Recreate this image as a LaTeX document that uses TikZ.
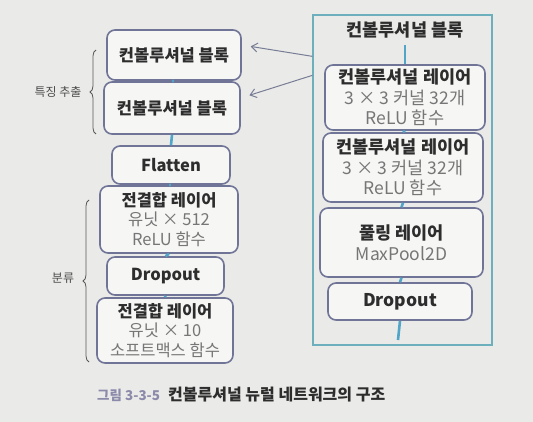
\documentclass[tikz,border=0pt]{standalone}
\usepackage{fontspec}
\setmainfont{Noto Sans CJK KR}
\usetikzlibrary{decorations.pathreplacing,calc,arrows.meta}
\definecolor{bgc}{RGB}{234,234,232}
\definecolor{boxc}{RGB}{112,116,150}
\definecolor{boxfill}{RGB}{246,246,245}
\definecolor{connc}{RGB}{80,165,200}
\definecolor{framec}{RGB}{110,175,190}
\definecolor{subc}{RGB}{118,118,118}
\definecolor{txtc}{RGB}{45,45,45}
\definecolor{capc}{RGB}{140,138,170}
\definecolor{arrc}{RGB}{120,125,150}
\tikzset{
  box/.style={draw=boxc, line width=1.6pt, rounded corners=8pt, fill=boxfill,
    align=center, inner sep=0pt, text=txtc},
  lfont/.style={font=\fontsize{16.5}{19.5}\selectfont},
  rfont/.style={font=\fontsize{17.5}{20.5}\selectfont},
  conn/.style={draw=connc, line width=2.6pt},
  brc/.style={draw=txtc!80, line width=0.8pt, decorate, decoration={brace, amplitude=6pt}},
  arr/.style={draw=arrc, line width=1pt, -{Straight Barb[length=6pt,width=9pt]}},
  lbl/.style={text=txtc!85, font=\fontsize{12}{14}\selectfont},
}
\newcommand\subtxt[1]{{\color{subc}\mdseries #1}}
\begin{document}
\begin{tikzpicture}[x=1pt,y=-1pt]
\fill[bgc] (0,0) rectangle (533,422);
\useasboundingbox (0,0) rectangle (533,422);

% right frame
\node[draw=framec, line width=1.3pt, minimum width=179pt, minimum height=330pt, inner sep=0pt] (frame) at (402.5,180) {};
\node[text=txtc, font=\fontsize{17.5}{20}\selectfont\bfseries] (ttl) at (405,30) {컨볼루셔널 블록};

% left boxes
\node[box, lfont, minimum width=134pt, minimum height=50pt] (b1) at (174,55) {\bfseries 컨볼루셔널 블록};
\node[box, lfont, minimum width=136pt, minimum height=52pt] (b2) at (172,108) {\bfseries 컨볼루셔널 블록};
\node[box, lfont, minimum width=118pt, minimum height=38pt] (fl) at (171,165) {\bfseries Flatten};
\node[box, lfont, minimum width=138pt, minimum height=67pt] (fc1) at (169,219.5) {\bfseries 전결합 레이어\\ \subtxt{유닛 × 512}\\ \subtxt{ReLU 함수}};
\node[box, lfont, minimum width=117pt, minimum height=38pt] (dr1) at (165.5,276) {\bfseries Dropout};
\node[box, lfont, minimum width=136pt, minimum height=65pt] (fc2) at (165,330.5) {\bfseries 전결합 레이어\\ \subtxt{유닛 × 10}\\ \subtxt{소프트맥스 함수}};

% right boxes
\node[box, rfont, minimum width=160pt, minimum height=65pt] (cA) at (405,97.5) {\bfseries 컨볼루셔널 레이어\\ \subtxt{3 × 3 커널 32개}\\ \subtxt{ReLU 함수}};
\node[box, rfont, minimum width=160pt, minimum height=69pt] (cB) at (403,167.5) {\bfseries 컨볼루셔널 레이어\\ \subtxt{3 × 3 커널 32개}\\ \subtxt{ReLU 함수}};
\node[box, rfont, minimum width=163pt, minimum height=69pt] (cC) at (401.5,242.5) {\bfseries 풀링 레이어\\ \subtxt{MaxPool2D}};
\node[box, rfont, minimum width=144pt, minimum height=37pt] (cD) at (400,301.5) {\bfseries Dropout};
\coordinate (cEnd) at (398,340);

% connectors
\draw[conn] (b1.south) -- (b2.north);
\draw[conn] (b2.south) -- (fl.north);
\draw[conn] (fl.south) -- (fc1.north);
\draw[conn] (fc1.south) -- (dr1.north);
\draw[conn] (dr1.south) -- (fc2.north);
\draw[conn, shorten <=3pt] (ttl.south) -- (cA.north);
\draw[conn] (cA.south) -- (cB.north);
\draw[conn] (cB.south) -- (cC.north);
\draw[conn] (cC.south) -- (cD.north);
\draw[conn] (cD.south) -- (cEnd);

% arrows from frame to left blocks
\coordinate (p1) at ($(frame.north west)+(0,42)$);
\coordinate (p2) at ($(frame.north west)+(0,61)$);
\draw[arr, shorten >=9pt] (p1) -- ($(b1.east)+(0,-10)$);
\draw[arr, shorten >=9pt] (p2) -- ($(b2.east)+(0,-10)$);

% braces
\coordinate (br1a) at (96,134);
\coordinate (br1b) at (96,50);
\coordinate (br2a) at (89,362);
\coordinate (br2b) at (89,200);
\draw[brc] (br1a) -- (br1b);
\draw[brc] (br2a) -- (br2b);
\node[lbl] (l1) at (58,92) {특징 추출};
\node[lbl] (l2) at (63,278) {분류};

% caption
\node[anchor=west, text=capc, font=\fontsize{13.5}{16}\selectfont\bfseries, inner sep=0pt] (cap1) at (97,395) {그림 3-3-5};
\node[anchor=west, text=txtc, font=\fontsize{16}{18}\selectfont\bfseries, inner sep=0pt] (cap2) at (168,395) {컨볼루셔널 뉴럴 네트워크의 구조};
\end{tikzpicture}
\end{document}
